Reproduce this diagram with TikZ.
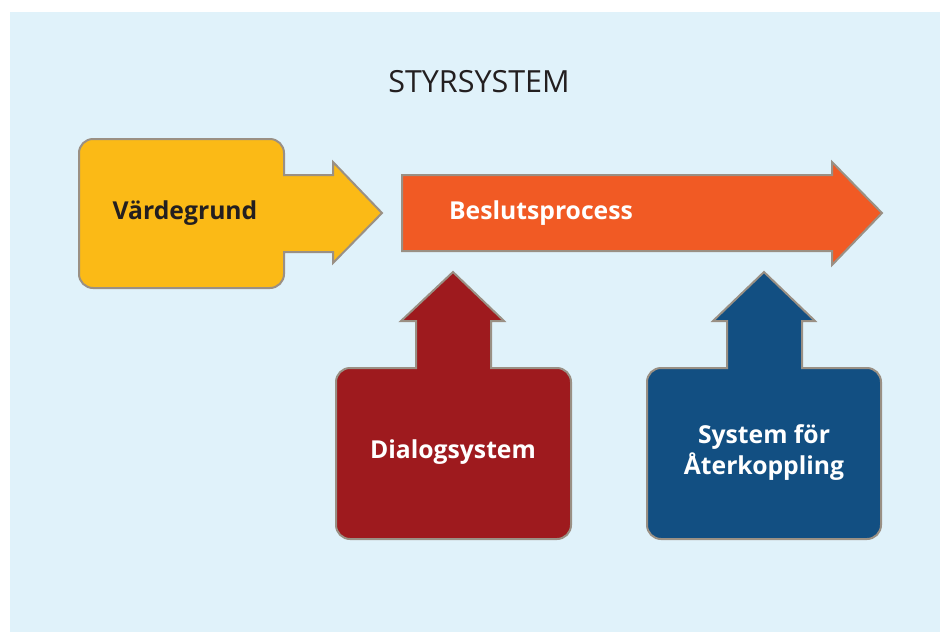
\documentclass[tikz,border=0pt]{standalone}
\usepackage{fontspec}
\setmainfont{Open Sans}
\definecolor{bgblue}{HTML}{E0F2FA}
\definecolor{edgegray}{HTML}{9A9084}
\definecolor{grundyellow}{HTML}{FBBA16}
\definecolor{beslutorange}{HTML}{F15A24}
\definecolor{dialogred}{HTML}{9E1A1E}
\definecolor{aterblue}{HTML}{124F82}
\definecolor{textdark}{HTML}{231F20}
\begin{document}
\begin{tikzpicture}[x=1pt,y=-1pt,
  blockarrow/.style={draw=edgegray,line width=2pt,line join=miter},
  boxtext/.style={font=\bfseries\fontsize{24.7}{31}\selectfont,align=center}]
\useasboundingbox (0,0) rectangle (940,632);
\fill[bgblue] (10,12) rectangle (940,632);

\node[font=\fontsize{30.5}{34}\selectfont,text=textdark] (styr) at (479,82) {STYRSYSTEM};

\draw[blockarrow,fill=grundyellow] (79,200) -- (79,153) .. controls (79,145.3) and (85.3,139) .. (93,139)
  -- (270,139) .. controls (277.7,139) and (284,145.3) .. (284,153)
  -- (284,175) -- (333,175) -- (333,162) -- (382,213) -- (333,263) -- (333,252) -- (284,252)
  -- (284,274) .. controls (284,281.7) and (277.7,288) .. (270,288)
  -- (93,288) .. controls (85.3,288) and (79,281.7) .. (79,274) -- cycle;
\node[boxtext,text=textdark] (grund) at (185,213) {Värdegrund};

\draw[blockarrow,fill=beslutorange] (402,175) -- (832,175) -- (832,162) -- (882,213) -- (832,265) -- (832,251) -- (402,251) -- cycle;
\node[boxtext,text=white] (beslut) at (541,213) {Beslutsprocess};

\draw[blockarrow,fill=dialogred] (336,450) -- (336,382) .. controls (336,374.3) and (342.3,368) .. (350,368)
  -- (416,368) -- (416,321) -- (401,321) -- (453,272) -- (504,321) -- (491,321) -- (491,368)
  -- (557,368) .. controls (564.7,368) and (571,374.3) .. (571,382)
  -- (571,525) .. controls (571,532.7) and (564.7,539) .. (557,539)
  -- (350,539) .. controls (342.3,539) and (336,532.7) .. (336,525) -- cycle;
\node[boxtext,text=white] (dialog) at (453,452) {Dialogsystem};

\draw[blockarrow,fill=aterblue] (647,450) -- (647,382) .. controls (647,374.3) and (653.3,368) .. (661,368)
  -- (727,368) -- (727,321) -- (713,321) -- (764,272) -- (815,321) -- (802,321) -- (802,368)
  -- (867,368) .. controls (874.7,368) and (881,374.3) .. (881,382)
  -- (881,525) .. controls (881,532.7) and (874.7,539) .. (867,539)
  -- (661,539) .. controls (653.3,539) and (647,532.7) .. (647,525) -- cycle;
\node[boxtext,text=white] (ater) at (764,453) {System för\\Återkoppling};
\end{tikzpicture}
\end{document}
